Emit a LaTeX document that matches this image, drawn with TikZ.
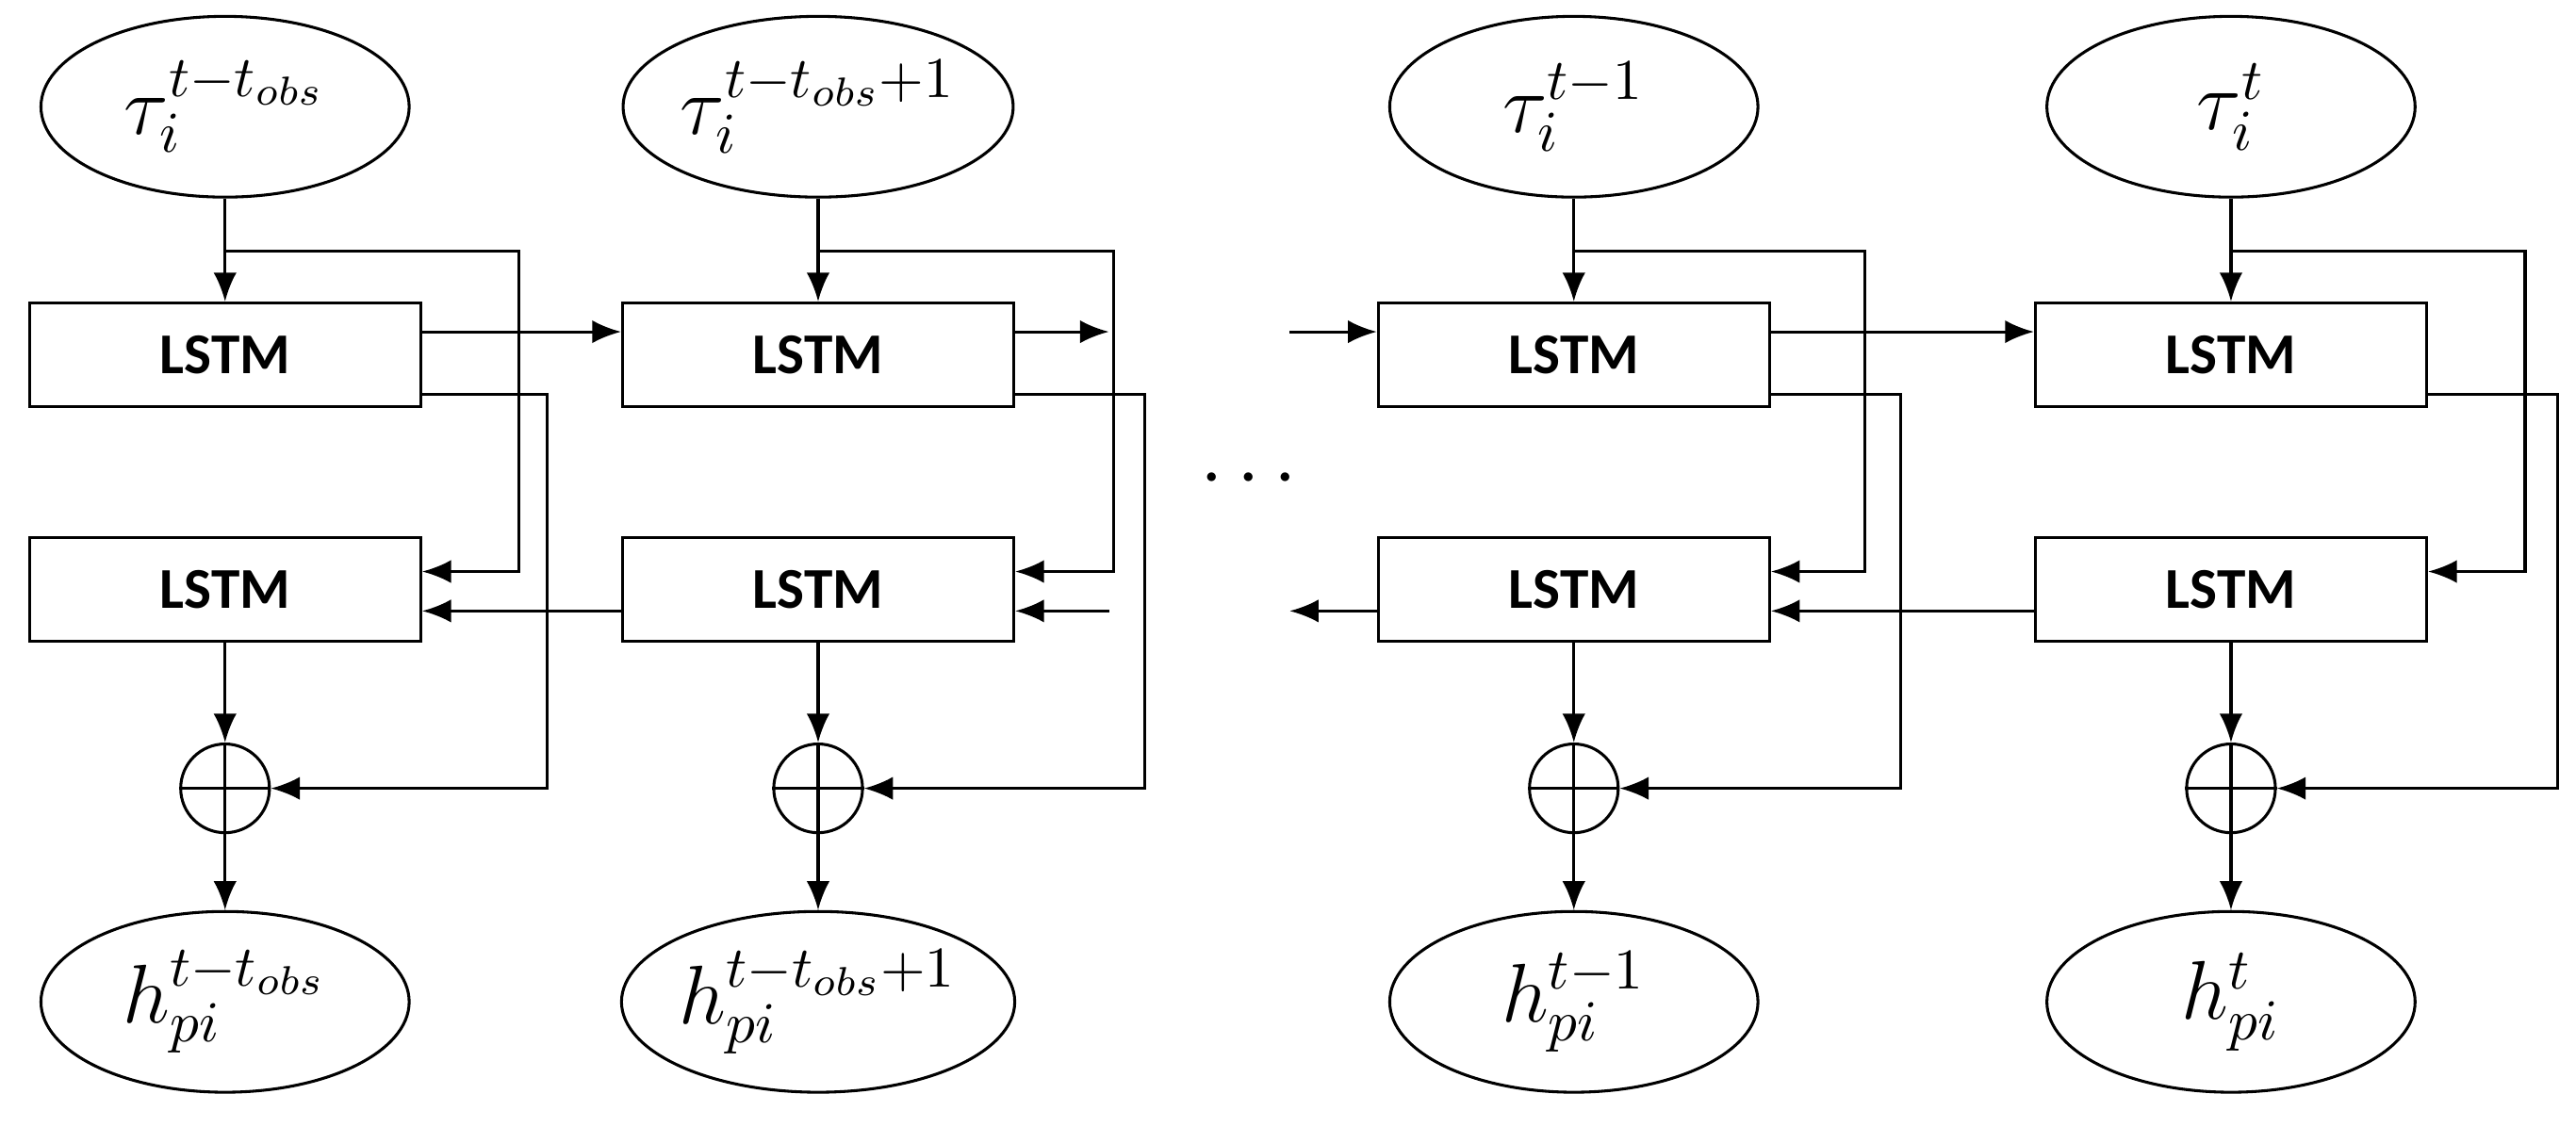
\documentclass[tikz,border=0pt]{standalone}
\usepackage{fontspec}
\setmainfont{Carlito}
\usetikzlibrary{arrows.meta,shapes.geometric}
\begin{document}
\begin{tikzpicture}[x=0.01cm,y=-0.01cm,
  line width=0.5pt, >={Latex[length=5pt,width=4pt]},
  ell/.style={ellipse,draw,minimum width=2.24cm,minimum height=1.1cm,inner sep=0pt,font=\Large},
  box/.style={rectangle,draw,minimum width=2.38cm,minimum height=0.63cm,inner sep=0pt,font=\fontsize{10}{12}\selectfont\bfseries},
  op/.style={circle,draw,minimum size=0.54cm,inner sep=0pt}]
\useasboundingbox (0,0) rectangle (1568,686);
\foreach \n/\x/\bx/\ox in {1/137/316/333, 2/498/678/697, 3/958/1135/1157, 4/1358/1537/1557}{
  \node[box] (f\n) at (\x,216) {LSTM};
  \node[box] (b\n) at (\x,359) {LSTM};
  \node[op] (o\n) at (\x,480) {};
  \draw (o\n.north) -- (o\n.south) (o\n.west) -- (o\n.east);
  \coordinate (s\n) at (\x,153);
  \coordinate (fo\n) at (f\n.east |- 0,240);
  \coordinate (bi\n) at (b\n.east |- 0,348);
  \draw[->] (s\n) -| (\bx,348) -- (bi\n);
  \draw[->] (fo\n) -| (\ox,480) -- (o\n.east);
  \draw[->] (b\n.south) -- (o\n.north);
}
\node[ell] (t1) at (137,65) {$\tau_i^{t-t_{obs}}$};
\node[ell] (t2) at (498,65) {$\tau_i^{t-t_{obs}+1}$};
\node[ell] (t3) at (958,65) {$\tau_i^{t-1}$};
\node[ell] (t4) at (1358,65) {$\tau_i^{t}$};
\node[ell] (h1) at (137,610) {$h_{pi}^{t-t_{obs}}$};
\node[ell] (h2) at (498,610) {$h_{pi}^{t-t_{obs}+1}$};
\node[ell] (h3) at (958,610) {$h_{pi}^{t-1}$};
\node[ell] (h4) at (1358,610) {$h_{pi}^{t}$};
\foreach \n in {1,2,3,4}{
  \draw (t\n.south) -- (s\n);
  \draw[->] (s\n) -- (f\n.north);
  \draw[->] (o\n.south) -- (h\n.north);
}
\coordinate (fa) at (675,202); \coordinate (fb) at (785,202);
\coordinate (ba) at (675,372); \coordinate (bb) at (785,372);
\draw[->] (f1.east |- 0,202) -- (f2.west |- 0,202);
\draw[->] (f2.east |- 0,202) -- (fa);
\draw[->] (fb) -- (f3.west |- 0,202);
\draw[->] (f3.east |- 0,202) -- (f4.west |- 0,202);
\draw[->] (b2.west |- 0,372) -- (b1.east |- 0,372);
\draw[->] (ba) -- (b2.east |- 0,372);
\draw[->] (b3.west |- 0,372) -- (bb);
\draw[->] (b4.west |- 0,372) -- (b3.east |- 0,372);
\node[font=\Large\bfseries] (dots) at (760,292) {$\cdots$};
\end{tikzpicture}
\end{document}
